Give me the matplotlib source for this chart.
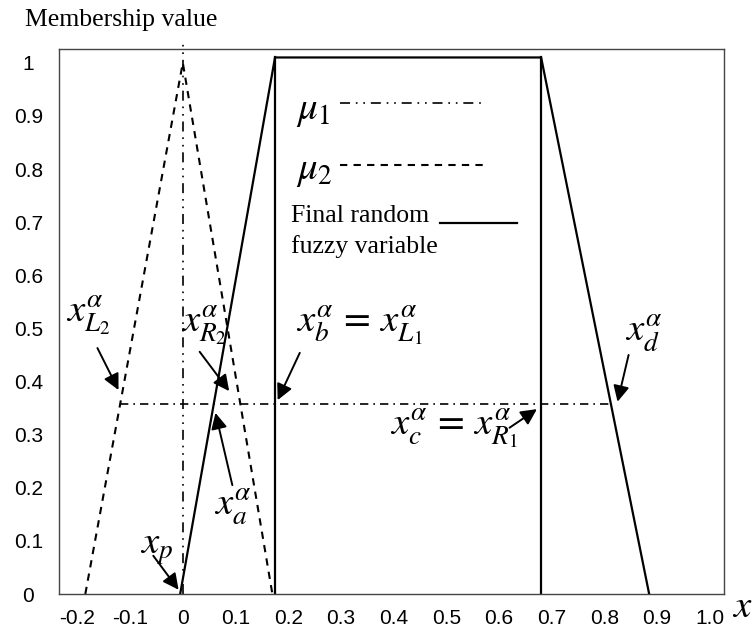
import matplotlib
matplotlib.use("Agg")
import matplotlib.pyplot as plt

plt.rcParams['mathtext.fontset'] = 'stix'

# ---- data ----
x_ticks = [-0.2, -0.1, 0, 0.1, 0.2, 0.3, 0.4, 0.5, 0.6, 0.7, 0.8, 0.9, 1.0]
x_tick_labels = ['-0.2', '-0.1', '0', '0.1', '0.2', '0.3', '0.4', '0.5', '0.6', '0.7', '0.8', '0.9', '1.0']
y_ticks = [0, 0.1, 0.2, 0.3, 0.4, 0.5, 0.6, 0.7, 0.8, 0.9, 1.0]
y_tick_labels = ['0', '0.1', '0.2', '0.3', '0.4', '0.5', '0.6', '0.7', '0.8', '0.9', '1']

# mu2: triangular membership (dashed)
mu2_x = [-0.185, 0.0, 0.17]
mu2_y = [0.0, 1.0, 0.0]
# mu1: crisp value at x = 0 (dash-dot-dot vertical)
mu1_x = [0.0, 0.0]
mu1_y = [0.0, 1.04]
# final random fuzzy variable (solid)
final_x = [-0.005, 0.175, 0.68, 0.885]
final_y = [0.0, 1.01, 1.01, 0.0]
# vertical edges of the inner rectangle
rect_x = [0.175, 0.68]
rect_top = 1.01
# alpha-cut level
alpha = 0.357
alpha_x = [-0.119, 0.812]

# annotations: (label, text pos, arrow tail, arrow head)
annotations = [
    (r'$x_{L_2}^{\alpha}$', (-0.18, 0.525), (-0.162, 0.463), (-0.122, 0.384)),
    (r'$x_{R_2}^{\alpha}$', (0.04, 0.507), (0.032, 0.456), (0.088, 0.382)),
    (r'$x_b^{\alpha}\,=\,x_{L_1}^{\alpha}$', (0.335, 0.507), (0.222, 0.454), (0.18, 0.365)),
    (r'$x_d^{\alpha}$', (0.875, 0.49), (0.846, 0.45), (0.825, 0.362)),
    (r'$x_c^{\alpha}\,=\,x_{R_1}^{\alpha}$', (0.515, 0.313), (0.62, 0.313), (0.672, 0.348)),
    (r'$x_a^{\alpha}$', (0.095, 0.164), (0.094, 0.205), (0.062, 0.341)),
    (r'$x_p$', (-0.05, 0.087), (-0.056, 0.072), (-0.008, 0.008)),
]

fig = plt.figure(figsize=(7.54, 6.36), dpi=100)
ax = fig.add_axes([0.0782, 0.066, 0.882, 0.857])

dash_mu1 = (0, (6, 3.5, 1, 3.5, 1, 3.5))
dash_mu2 = (0, (3.5, 3))
dash_alpha = (0, (5, 3, 1, 3))

ax.plot(mu2_x, mu2_y, color='black', lw=1.5, linestyle=dash_mu2)
ax.plot(mu1_x, mu1_y, color='black', lw=1.2, linestyle=dash_mu1, clip_on=False)
ax.plot(final_x, final_y, color='black', lw=1.6, solid_joinstyle='miter')
for rx in rect_x:
    ax.plot([rx, rx], [0, rect_top], color='black', lw=1.6)
ax.plot(alpha_x, [alpha, alpha], color='black', lw=1.2, linestyle=dash_alpha)

for label, tpos, tail, head in annotations:
    ax.annotate('', xy=head, xytext=tail,
                arrowprops=dict(arrowstyle='-|>', color='black', lw=1.4,
                                mutation_scale=24, shrinkA=0, shrinkB=0))
    ax.text(tpos[0], tpos[1], label, fontsize=28, ha='center', va='center')

# legend drawn by hand in axes-data space
ax.text(0.214, 0.911, r'$\mu_1$', fontsize=28, ha='left', va='center')
ax.plot([0.298, 0.569], [0.925, 0.925], color='black', lw=1.2, linestyle=dash_mu1)
ax.text(0.214, 0.798, r'$\mu_2$', fontsize=28, ha='left', va='center')
ax.plot([0.298, 0.569], [0.808, 0.808], color='black', lw=1.5, linestyle=dash_mu2)
ax.text(0.205, 0.712, 'Final random', fontsize=18.5, family='Liberation Serif', ha='left', va='center')
ax.text(0.205, 0.655, 'fuzzy variable', fontsize=18.5, family='Liberation Serif', ha='left', va='center')
ax.plot([0.488, 0.634], [0.699, 0.699], color='black', lw=1.6)

ax.set_xlim(-0.235, 1.027)
ax.set_ylim(0, 1.026)
ax.set_xticks(x_ticks)
ax.set_xticklabels(x_tick_labels, family='Liberation Sans', fontsize=15)
ax.set_yticks(y_ticks)
ax.set_yticklabels(y_tick_labels, family='Liberation Sans', fontsize=15, ha='center')
ax.tick_params(axis='both', length=0)
ax.tick_params(axis='y', pad=22)
ax.tick_params(axis='x', pad=11)
for s in ax.spines.values():
    s.set_color('#444444')
    s.set_linewidth(1.0)

fig.text(25 / 754, 1 - 20 / 636, 'Membership value', fontsize=18.5,
         family='Liberation Serif', ha='left', va='center')
fig.text(742 / 754, 1 - 606 / 636, r'$x$', fontsize=28, ha='center', va='center')

fig.savefig('out.png', dpi=100)
